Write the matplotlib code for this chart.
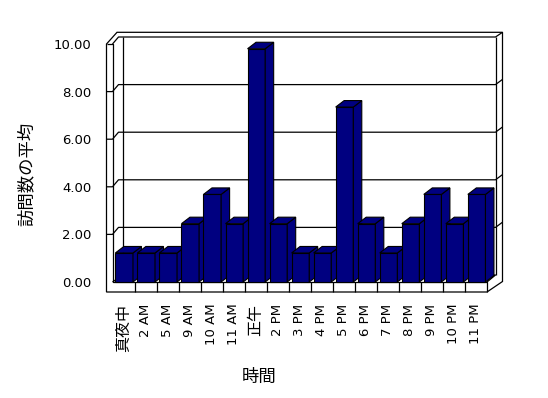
import numpy as np
import matplotlib
matplotlib.use('Agg')
import matplotlib.pyplot as plt
from matplotlib.patches import Polygon

plt.rcParams['font.family'] = ['DejaVu Sans', 'Noto Sans CJK JP']

# data
categories = ['真夜中', '2 AM', '5 AM', '9 AM', '10 AM', '11 AM', '正午', '2 PM', '3 PM',
              '4 PM', '5 PM', '6 PM', '7 PM', '8 PM', '9 PM', '10 PM', '11 PM']
visits = [1.22, 1.22, 1.22, 2.45, 3.68, 2.45, 9.8, 2.45, 1.22,
          1.22, 7.35, 2.45, 1.22, 2.45, 3.68, 2.45, 3.68]
y_ticks = [0, 2, 4, 6, 8, 10]

NAVY = '#000080'
W, H = 548, 398
# front plane of the 3d box, in pixels
X0, X1, Y0, Y1 = 112.5, 487, 282, 44
WALL = 6        # left wall thickness
FLOOR = 10      # floor thickness
DX, DY = 10, -7          # depth of box (inner back face)
BACK_X, BACK_Y = 502.5, 32.3   # outer back wall edge

fig = plt.figure(figsize=(W / 100, H / 100), dpi=100)
fig.patch.set_facecolor('white')

# background layer for walls / floor (pixel coords)
bg = fig.add_axes([0, 0, 1, 1], zorder=0)
bg.set_xlim(0, W)
bg.set_ylim(H, 0)
bg.axis('off')

def line(pts, lw=0.9):
    xs, ys = zip(*pts)
    bg.plot(xs, ys, color='black', lw=lw, solid_capstyle='butt')

xl = X0 - WALL
outline = [(xl, Y0 + FLOOR), (xl, Y1), (xl + 10.5, BACK_Y), (BACK_X, BACK_Y),
           (BACK_X, Y0 - 0.5), (X1, Y0 + FLOOR)]
bg.add_patch(Polygon(outline, closed=True, facecolor='white', edgecolor='black', lw=0.9))

bx0, bx1 = X0 + DX, X1 + 8.5
# left wall front face and top
line([(xl, Y1), (X0, Y1), (X0, Y0), (X1, Y0), (X1, Y0 + FLOOR)])
line([(X0, Y1), (X0 + 6, Y1 + DY), (bx1, Y1 + DY), (BACK_X, BACK_Y)])
line([(bx0, Y1 + DY), (bx0, Y0 + DY)])
line([(bx1, Y1 + DY), (bx1, Y0 + DY)])
# floor top edges
line([(X0, Y0), (bx0, Y0 + DY), (bx1, Y0 + DY), (X1, Y0)])
# floor front cells
step = (X1 - X0) / len(categories)
for k in range(1, len(categories)):
    line([(X0 + k * step, Y0), (X0 + k * step, Y0 + FLOOR)])

# gridlines wrapped round the walls
scale = (Y0 - Y1) / 10
for t in y_ticks[1:-1]:
    y = Y0 - t * scale
    line([(xl, y), (X0, y), (X0 + 6, y + DY), (bx1, y + DY), (BACK_X, y + DY - 5.2)])

# bars on the data axes
ax = fig.add_axes([X0 / W, 1 - Y0 / H, (X1 - X0) / W, (Y0 - Y1) / H], zorder=1)
ax.patch.set_visible(False)
ax.set_xlim(-0.5, len(categories) - 0.5)
ax.set_ylim(0, 10)
for s in ax.spines.values():
    s.set_visible(False)

x = np.arange(len(categories))
bw = 0.8
ddx = 8.5 / step
ddy = 6.5 / scale
bars = ax.bar(x + 0.03, visits, width=bw, color=NAVY, edgecolor='black', linewidth=0.8)
for i, (b, v) in enumerate(zip(bars, visits)):
    z = 2 + i
    b.set_zorder(z)
    b.set_clip_on(False)
    left = x[i] + 0.03 - bw / 2
    right = left + bw
    side = [(right, 0), (right + ddx, ddy), (right + ddx, v + ddy), (right, v)]
    top = [(left, v), (right, v), (right + ddx, v + ddy), (left + ddx, v + ddy)]
    for pts in (side, top):
        ax.add_patch(Polygon(pts, closed=True, facecolor=NAVY, edgecolor='black',
                             lw=0.8, zorder=z, clip_on=False))

ax.set_yticks(y_ticks)
ax.set_yticklabels([f'{t:.2f}' for t in y_ticks])
ax.tick_params(axis='y', length=0, pad=15, labelsize=9.5)
ax.set_xticks(x)
ax.set_xticklabels(categories, rotation=90)
ax.tick_params(axis='x', length=0, pad=15.5, labelsize=9.5)
for lbl in ax.get_xticklabels():
    if any(ord(c) > 127 for c in lbl.get_text()):
        lbl.set_fontfamily('Noto Sans CJK JP')
        lbl.set_fontsize(11.5)

ax.set_ylabel('訪問数の平均', fontfamily='Noto Sans CJK JP', fontsize=12.5)
ax.yaxis.set_label_coords((26.7 - X0) / (X1 - X0), (Y0 - 174) / (Y0 - Y1))
ax.yaxis.label.set_va('center')
ax.set_xlabel('時間', fontfamily='Noto Sans CJK JP', fontsize=12.5)
ax.xaxis.set_label_coords((259 - X0) / (X1 - X0), (Y0 - 376.7) / (Y0 - Y1))
ax.xaxis.label.set_va('center')

fig.savefig('out.png', dpi=100, facecolor='white')
